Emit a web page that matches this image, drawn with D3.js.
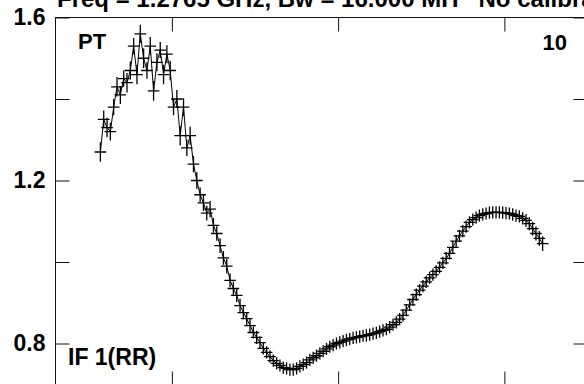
<!DOCTYPE html>
<html>
<head>
<meta charset="utf-8">
<script src="https://cdn.jsdelivr.net/npm/d3@7"></script>
<style>
  body { margin: 0; background: #fff; }
  text { font-family: "Liberation Sans", Arial, sans-serif; font-weight: bold; }
</style>
</head>
<body>
<div id="chart"></div>
<script>
// Data
const titleText = "Freq = 1.2765 GHz, Bw = 16.000 MH   No calibration applied";
const chanStart = 57, chanStep = 2;
const amps = [
  1.27, 1.35, 1.33, 1.32, 1.38, 1.43, 1.41, 1.45, 1.44, 1.47,
  1.53, 1.46, 1.56, 1.50, 1.47, 1.53, 1.42, 1.49, 1.52, 1.46,
  1.51, 1.47, 1.38, 1.40, 1.31, 1.38, 1.28, 1.31, 1.24, 1.20,
  1.165, 1.145, 1.12, 1.13, 1.09, 1.07, 1.04, 1.01, 0.99, 0.955,
  0.935, 0.918, 0.893, 0.876, 0.861, 0.844, 0.827, 0.815, 0.802, 0.788,
  0.778, 0.768, 0.758, 0.751, 0.746, 0.741, 0.739, 0.736, 0.736, 0.739,
  0.744, 0.748, 0.753, 0.760, 0.765, 0.770, 0.776, 0.781, 0.787, 0.792,
  0.796, 0.800, 0.803, 0.806, 0.809, 0.811, 0.814, 0.815, 0.817, 0.819,
  0.820, 0.822, 0.824, 0.826, 0.829, 0.832, 0.835, 0.840, 0.846, 0.852,
  0.860, 0.869, 0.882, 0.895, 0.908, 0.920, 0.931, 0.941, 0.951, 0.961,
  0.969, 0.977, 0.987, 0.998, 1.009, 1.021, 1.036, 1.051, 1.064, 1.076,
  1.087, 1.097, 1.104, 1.109, 1.114, 1.117, 1.119, 1.121, 1.122, 1.122,
  1.122, 1.121, 1.120, 1.119, 1.117, 1.114, 1.112, 1.107, 1.102, 1.094,
  1.082, 1.070, 1.058, 1.045
];
// amplitude errors (drawn as the vertical arm of each cross)
const ampErrs = [
  0.024, 0.022, 0.024, 0.022, 0.020, 0.024, 0.022, 0.020, 0.024, 0.022,
  0.020, 0.024, 0.022, 0.024, 0.020, 0.022, 0.024, 0.022, 0.020, 0.024,
  0.022, 0.024, 0.020, 0.022, 0.024, 0.022, 0.020, 0.022, 0.020, 0.020,
  0.018, 0.020, 0.018, 0.020, 0.018, 0.018, 0.018, 0.017, 0.018, 0.017,
  0.017, 0.016, 0.017, 0.016, 0.016, 0.016, 0.015, 0.016, 0.015, 0.015,
  0.015, 0.015, 0.015, 0.015, 0.015, 0.015, 0.015, 0.015, 0.015, 0.015,
  0.015, 0.015, 0.015, 0.015, 0.015, 0.015, 0.015, 0.015, 0.015, 0.015,
  0.015, 0.015, 0.015, 0.015, 0.015, 0.015, 0.015, 0.015, 0.015, 0.015,
  0.015, 0.015, 0.015, 0.015, 0.015, 0.015, 0.015, 0.015, 0.015, 0.015,
  0.015, 0.015, 0.015, 0.015, 0.015, 0.015, 0.015, 0.015, 0.015, 0.015,
  0.015, 0.015, 0.015, 0.015, 0.015, 0.015, 0.015, 0.015, 0.015, 0.015,
  0.015, 0.015, 0.015, 0.015, 0.015, 0.015, 0.015, 0.015, 0.015, 0.015,
  0.015, 0.015, 0.015, 0.015, 0.015, 0.015, 0.015, 0.015, 0.016, 0.016,
  0.017, 0.017, 0.018, 0.018
];
const xTicks = [100, 200, 300];
const yTicks = [0.8, 1.0, 1.2, 1.4, 1.6];
const yLabels = [0.8, 1.2, 1.6];

const points = amps.map((v, i) => ({ chan: chanStart + i * chanStep, amp: v, err: ampErrs[i] }));

// Set dimensions
const width = 584, height = 384;
const frame = { left: 55.5, top: 17.5, right: 587.5, bottom: 385.5 };

const svg = d3.select("#chart")
  .append("svg")
  .attr("width", width)
  .attr("height", height);

const x = d3.scaleLinear().domain([30, 350]).range([frame.left, frame.right]);
const y = d3.scaleLinear().domain([0.8, 1.6]).range([343.5, frame.top]);

// Frame
svg.append("rect")
  .attr("x", frame.left)
  .attr("y", frame.top)
  .attr("width", frame.right - frame.left)
  .attr("height", frame.bottom - frame.top)
  .attr("fill", "none")
  .attr("stroke", "#111");

const tick = 14;

// Axes (ticks point inward)
const leftAxis = svg.append("g")
  .attr("transform", `translate(${frame.left},0)`)
  .call(d3.axisLeft(y).tickValues(yTicks).tickSizeInner(-tick).tickSizeOuter(0).tickPadding(10)
    .tickFormat(d => yLabels.some(l => Math.abs(l - d) < 1e-9) ? d3.format(".1f")(d) : ""));

leftAxis.select(".domain").remove();
leftAxis.selectAll("line").attr("stroke", "#111");
leftAxis.selectAll("text")
  .attr("font-size", 23)
  .attr("font-family", "Liberation Sans, Arial, sans-serif")
  .attr("font-weight", "bold")
  .attr("fill", "#000");

const rightAxis = svg.append("g")
  .attr("transform", `translate(${frame.right},0)`)
  .call(d3.axisRight(y).tickValues(yTicks).tickSizeInner(-tick).tickSizeOuter(0).tickFormat(""));
rightAxis.select(".domain").remove();
rightAxis.selectAll("line").attr("stroke", "#111");

const topAxis = svg.append("g")
  .attr("transform", `translate(0,${frame.top})`)
  .call(d3.axisTop(x).tickValues(xTicks).tickSizeInner(-tick).tickSizeOuter(0).tickFormat(""));
topAxis.select(".domain").remove();
topAxis.selectAll("line").attr("stroke", "#111");

const bottomAxis = svg.append("g")
  .attr("transform", `translate(0,${frame.bottom})`)
  .call(d3.axisBottom(x).tickValues(xTicks).tickSizeInner(-tick).tickSizeOuter(0).tickFormat(""));
bottomAxis.select(".domain").remove();
bottomAxis.selectAll("line").attr("stroke", "#111");

// Connecting line
svg.append("path")
  .datum(points)
  .attr("fill", "none")
  .attr("stroke", "#000")
  .attr("stroke-width", 1)
  .attr("d", d3.line().x(d => x(d.chan)).y(d => y(d.amp)));

// Cross markers: horizontal arm spans a few channels, vertical arm = amplitude error
svg.append("g").selectAll("path")
  .data(points)
  .join("path")
  .attr("d", d => {
    const cx = x(d.chan), cy = y(d.amp);
    const hx = x(d.chan + 3.5) - cx;
    return `M${cx - hx},${cy}H${cx + hx}M${cx},${y(d.amp + d.err)}V${y(d.amp - d.err)}`;
  })
  .attr("stroke", "#000")
  .attr("stroke-width", 1.3)
  .attr("fill", "none");

// Labels
svg.append("text")
  .attr("x", 57)
  .attr("y", 7)
  .attr("font-size", 24)
  .style("white-space", "pre")
  .text(titleText);

svg.append("text")
  .attr("x", 78)
  .attr("y", 49)
  .attr("font-size", 22)
  .text("PT");

svg.append("text")
  .attr("x", 567)
  .attr("y", 50)
  .attr("text-anchor", "end")
  .attr("font-size", 22)
  .text("10");

svg.append("text")
  .attr("x", 68)
  .attr("y", 365)
  .attr("font-size", 23)
  .text("IF 1(RR)");
</script>
</body>
</html>
